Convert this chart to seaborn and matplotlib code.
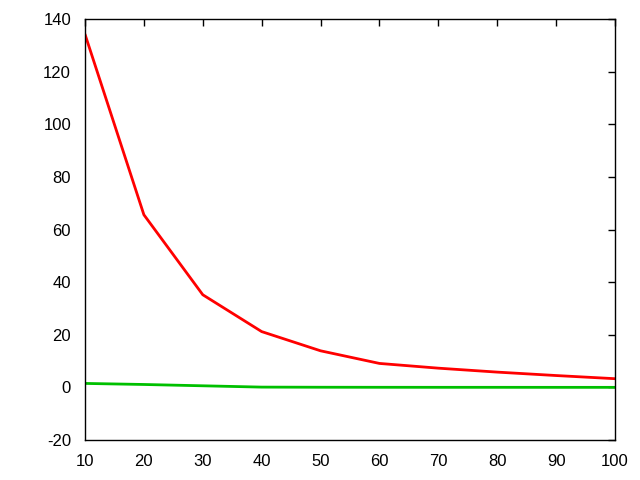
import numpy as np
import pandas as pd
import matplotlib
matplotlib.use("Agg")
import matplotlib.pyplot as plt
import seaborn as sns

# values
x_vals = [10, 20, 30, 40, 50, 60, 70, 80, 90, 100]
red_vals = [134.2, 65.6, 35.2, 21.2, 13.9, 9.1, 7.3, 5.8, 4.5, 3.3]
green_vals = [1.5, 1.1, 0.6, 0.1, 0.05, 0.03, 0.02, 0.02, 0.01, 0.01]

sns.set_style("white")
plt.rcParams["font.family"] = ["Liberation Sans", "DejaVu Sans"]
plt.rcParams["axes.unicode_minus"] = False

df = pd.DataFrame({
    "x": x_vals * 2,
    "y": red_vals + green_vals,
    "series": ["red"] * len(x_vals) + ["green"] * len(x_vals),
})

fig = plt.figure(figsize=(6.4, 4.8), dpi=100)
ax = fig.add_axes([85 / 640, 1 - 440 / 480, 530 / 640, 421 / 480])
sns.lineplot(
    data=df, x="x", y="y", hue="series",
    palette={"red": "#ff0000", "green": "#00c000"},
    linewidth=2, legend=False, ax=ax,
)
ax.set_xlim(10, 100)
ax.set_ylim(-20, 140)
ax.set_xticks(range(10, 101, 10))
ax.set_yticks(range(-20, 141, 20))
ax.set_xlabel("")
ax.set_ylabel("")
ax.tick_params(direction="in", length=5, width=1, top=True, right=True,
               labelsize=12, colors="black")
ax.tick_params(axis="x", pad=10)
ax.tick_params(axis="y", pad=10)
for s in ax.spines.values():
    s.set_color("black")
    s.set_linewidth(1)

fig.savefig("out.png", dpi=100)
